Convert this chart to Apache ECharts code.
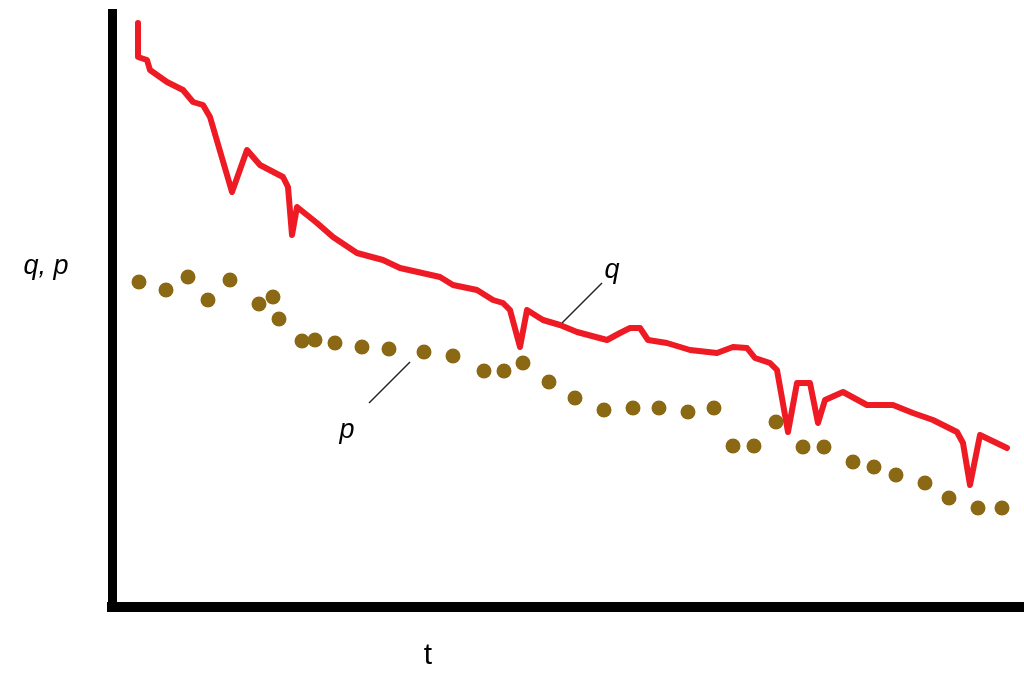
<!DOCTYPE html>
<html>
<head>
<meta charset="utf-8">
<script src="https://cdn.jsdelivr.net/npm/echarts@6/dist/echarts.min.js"></script>
<style>html,body{margin:0;padding:0;background:#fff;}#c{width:1024px;height:673px;}</style>
</head>
<body>
<div id="c"></div>
<script>
// q (red line): time t and value
const qT = [26,26,35,38,55,71,81,91,98,120,135,148,171,176,180,185,205,221,245,271,288,328,341,365,381,391,398,408,415,431,448,465,495,508,518,528,536,555,578,605,621,635,643,658,665,676,685,698,706,713,731,755,781,801,821,845,851,858,868,895];
const qV = [584,550,547,537,525,517,505,502,490,415,457,442,430,420,372,400,384,370,354,347,339,330,322,317,307,304,297,260,297,287,282,275,267,274,279,279,267,264,257,254,260,259,249,244,237,175,224,224,184,207,215,202,202,194,187,175,164,122,172,159];
// p (brown dots)
const pT = [27,54,76,96,118,147,161,167,190,203,223,250,277,312,341,372,392,411,437,463,492,521,547,576,602,621,642,664,691,712,741,762,784,813,837,866,890];
const pV = [325,317,330,307,327,303,310,288,266,267,264,260,258,255,251,236,236,244,225,209,197,199,199,195,199,161,161,185,160,160,145,140,132,124,109,99,99];
// annotation leader lines [t1,v1,t2,v2]
const qLeader = [490,324,450,284];
const pLeader = [298,245,257,204];
const labels = {y:'q, p', x:'t', q:'q', p:'p'};

const chart = echarts.init(document.getElementById('c'));
chart.setOption({
  animation:false,
  backgroundColor:'#fff',
  grid:{left:112, right:0, top:9, bottom:66},
  xAxis:{type:'value', min:0, max:912, axisLine:{lineStyle:{color:'#000', width:10, cap:'square'}}, axisTick:{show:false}, axisLabel:{show:false}, splitLine:{show:false}},
  yAxis:{type:'value', min:0, max:598, axisLine:{show:true, lineStyle:{color:'#000', width:9, cap:'butt'}}, axisTick:{show:false}, axisLabel:{show:false}, splitLine:{show:false}},
  series:[
    {type:'line', data:qT.map((t,i)=>[t,qV[i]]), showSymbol:false, symbol:'none', lineStyle:{color:'#ee1b24', width:6, join:'round', cap:'round'}, z:3,
     markLine:{silent:true, symbol:'none', label:{show:false}, lineStyle:{color:'#222', width:1.5, type:'solid'},
       data:[[{coord:[qLeader[0],qLeader[1]]},{coord:[qLeader[2],qLeader[3]]}],[{coord:[pLeader[0],pLeader[1]]},{coord:[pLeader[2],pLeader[3]]}]]}},
    {type:'scatter', data:pT.map((t,i)=>[t,pV[i]]), symbol:'circle', symbolSize:15, itemStyle:{color:'#8b6914', opacity:1}, z:2}
  ],
  graphic:[
    {type:'text', style:{x:46, y:266, text:labels.y, font:'italic 27px "Liberation Sans"', fill:'#000', textAlign:'center', textVerticalAlign:'middle'}},
    {type:'text', style:{x:428, y:656, text:labels.x, font:'30px "Liberation Sans"', fill:'#000', textAlign:'center', textVerticalAlign:'middle'}},
    {type:'text', style:{x:612, y:270, text:labels.q, font:'italic 27px "Liberation Sans"', fill:'#000', textAlign:'center', textVerticalAlign:'middle'}},
    {type:'text', style:{x:347, y:430, text:labels.p, font:'italic 27px "Liberation Sans"', fill:'#000', textAlign:'center', textVerticalAlign:'middle'}}
  ]
});
</script>
</body>
</html>
